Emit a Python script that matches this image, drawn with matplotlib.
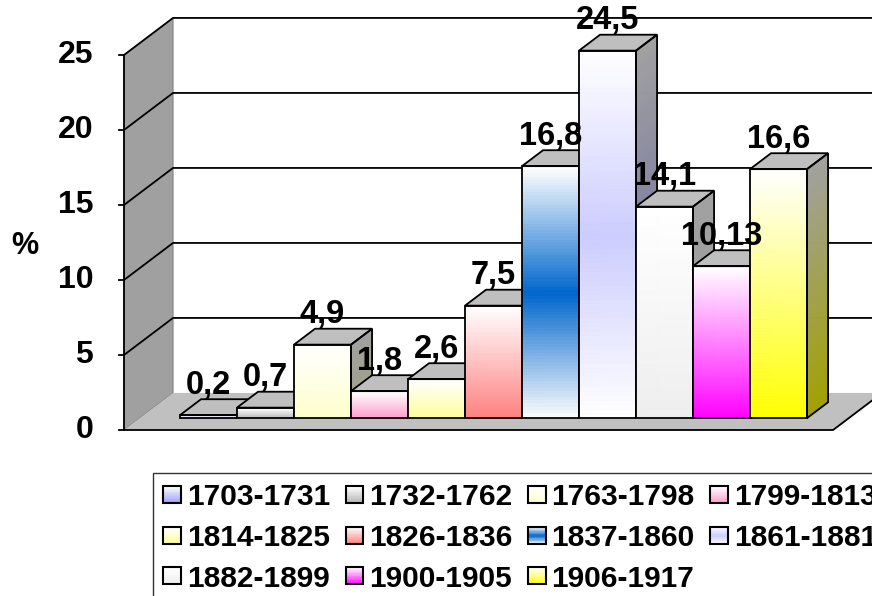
import matplotlib
matplotlib.use("Agg")
import matplotlib.pyplot as plt
import numpy as np
from matplotlib.collections import PolyCollection
from matplotlib.colors import LinearSegmentedColormap, to_rgb
from matplotlib.legend_handler import HandlerBase
from matplotlib.patches import Polygon, Rectangle

plt.rcParams["font.family"] = ["Liberation Sans", "DejaVu Sans"]
plt.rcParams["font.weight"] = "bold"

# data
periods = ["1703-1731", "1732-1762", "1763-1798", "1799-1813", "1814-1825", "1826-1836",
           "1837-1860", "1861-1881", "1882-1899", "1900-1905", "1906-1917"]
shares = [0.2, 0.7, 4.9, 1.8, 2.6, 7.5, 16.8, 24.5, 14.1, 10.13, 16.6]
y_ticks = [0, 5, 10, 15, 20, 25]

# fill gradients, top -> bottom
grads = [
    ["#ffffff", "#9999ff"],
    ["#ffffff", "#b2b2b2"],
    ["#ffffff", "#ffffcc"],
    ["#ffffff", "#ff99cc"],
    ["#ffffff", "#ffff99"],
    ["#ffffff", "#ff8080"],
    ["#ffffff", "#0066cc", "#ffffff"],
    ["#ffffff", "#ccccff", "#ffffff"],
    ["#ffffff", "#eeeeee"],
    ["#ffffff", "#ff00ff"],
    ["#ffffff", "#ffff00"],
]

# oblique "3D" projection: depth z in [0, 1]
DX, DY = 0.86, 2.47
Z_FRONT, Z_BACK = 0.32, 0.75
FLOOR_W = 12.44
X0 = 0.707
YMAX = 25
LW = 1.3


def P(x, y, z):
    return (x + DX * z, y + DY * z)


def shade(c, f):
    return tuple(np.array(to_rgb(c)) * f)


fig = plt.figure(figsize=(8.72, 5.96), dpi=100)
ax = fig.add_axes([0, 0, 1, 1])
ax.set_xlim(-124 / 57, 748 / 57)
ax.set_ylim(-166 / 15, 430 / 15)
ax.axis("off")

# walls and floor
ax.add_patch(Polygon([P(0, 0, 1), P(16, 0, 1), P(16, YMAX, 1), P(0, YMAX, 1)],
                     closed=True, fc="white", ec="none", zorder=1))
ax.add_patch(Polygon([P(0, 0, 0), P(0, YMAX, 0), P(0, YMAX, 1), P(0, 0, 1)],
                     closed=True, fc="#a0a0a0", ec="#808080", lw=0.8, zorder=1))
ax.add_patch(Polygon([P(0, 0, 0), P(FLOOR_W, 0, 0), P(FLOOR_W, 0, 1), P(0, 0, 1)],
                     closed=True, fc="#c0c0c0", ec="none", zorder=2))
ax.plot(*zip(P(0, 0, 0), P(FLOOR_W, 0, 0), P(FLOOR_W, 0, 1), P(16, 0, 1)),
        color="black", lw=LW, zorder=2)
for t in y_ticks[1:]:
    ax.plot(*zip(P(0, t, 0), P(0, t, 1), P(16, t, 1)), color="black", lw=LW, zorder=1.5)

# value axis
ax.plot(*zip(P(0, 0, 0), P(0, YMAX, 0)), color="black", lw=LW, zorder=3)
for t in y_ticks:
    ax.plot([-0.09, 0], [t, t], color="black", lw=LW, zorder=3)
    ax.text(-0.54, t, str(t), ha="right", va="center", fontsize=23, fontweight="bold")
ax.text(-1.74, 12.3, "%", ha="center", va="center", fontsize=22, fontweight="bold")

# bars
N = 80
for i, (v, stops) in enumerate(zip(shares, grads)):
    cmap = LinearSegmentedColormap.from_list(f"g{i}", stops[::-1])
    xl, xr = X0 + i, X0 + i + 1
    zo = 4 + i
    fronts, sides, fc, sc = [], [], [], []
    for k in range(N):
        y0, y1 = v * k / N, v * (k + 1) / N
        c = cmap((k + 0.5) / N)
        fronts.append([P(xl, y0, Z_FRONT), P(xr, y0, Z_FRONT), P(xr, y1, Z_FRONT), P(xl, y1, Z_FRONT)])
        sides.append([P(xr, y0, Z_FRONT), P(xr, y0, Z_BACK), P(xr, y1, Z_BACK), P(xr, y1, Z_FRONT)])
        fc.append(c)
        sc.append(shade(c[:3], 0.63))
    ax.add_collection(PolyCollection(sides, facecolors=sc, edgecolors=sc, lw=0.6, zorder=zo))
    ax.add_collection(PolyCollection(fronts, facecolors=fc, edgecolors=fc, lw=0.6, zorder=zo))
    top = [P(xl, v, Z_FRONT), P(xr, v, Z_FRONT), P(xr, v, Z_BACK), P(xl, v, Z_BACK)]
    ax.add_patch(Polygon(top, closed=True, fc=shade(stops[0], 0.75), ec="black", lw=LW, zorder=zo))
    ax.add_patch(Polygon([P(xr, 0, Z_FRONT), P(xr, 0, Z_BACK), P(xr, v, Z_BACK), P(xr, v, Z_FRONT)],
                         closed=True, fc="none", ec="black", lw=LW, zorder=zo))
    ax.add_patch(Polygon([P(xl, 0, Z_FRONT), P(xr, 0, Z_FRONT), P(xr, v, Z_FRONT), P(xl, v, Z_FRONT)],
                         closed=True, fc="none", ec="black", lw=LW, zorder=zo))

for i, v in enumerate(shares):
    lx, _ = P(X0 + i + 0.5, v, Z_FRONT)
    ly = v + DY * Z_BACK + 0.35
    ax.text(lx, ly, str(v).replace(".", ","), ha="center", va="baseline",
            fontsize=23.5, fontweight="bold", zorder=30)


# legend with gradient keys
class GradKey:
    def __init__(self, stops):
        self.stops = stops


class GradHandler(HandlerBase):
    def create_artists(self, legend, orig_handle, xdescent, ydescent, width, height, fontsize, trans):
        cmap = LinearSegmentedColormap.from_list("k", orig_handle.stops[::-1])
        x0, y0 = -xdescent, -ydescent
        arts = []
        n = 12
        for k in range(n):
            c = cmap((k + 0.5) / n)
            arts.append(Rectangle((x0, y0 + height * k / n), width, height / n,
                                  fc=c, ec=c, lw=0.3, transform=trans))
        arts.append(Rectangle((x0, y0), width, height, fc="none", ec="black", lw=1.5, transform=trans))
        return arts


order = [0, 4, 8, 1, 5, 9, 2, 6, 10, 3, 7]
handles = [GradKey(grads[j]) for j in order]
labels = [periods[j] for j in order]
leg = fig.legend(handles, labels, handler_map={GradKey: GradHandler()}, ncol=4,
                 loc="upper left", bbox_to_anchor=(153 / 872, 1 - 473 / 596),
                 borderaxespad=0, borderpad=0.35, frameon=True, fancybox=False,
                 edgecolor="black", prop={"size": 21.5, "weight": "bold"},
                 handlelength=0.6, handleheight=0.5, handletextpad=0.2,
                 columnspacing=0.5, labelspacing=0.42)
leg.get_frame().set_linewidth(1.0)

fig.savefig("out.png", dpi=100)
